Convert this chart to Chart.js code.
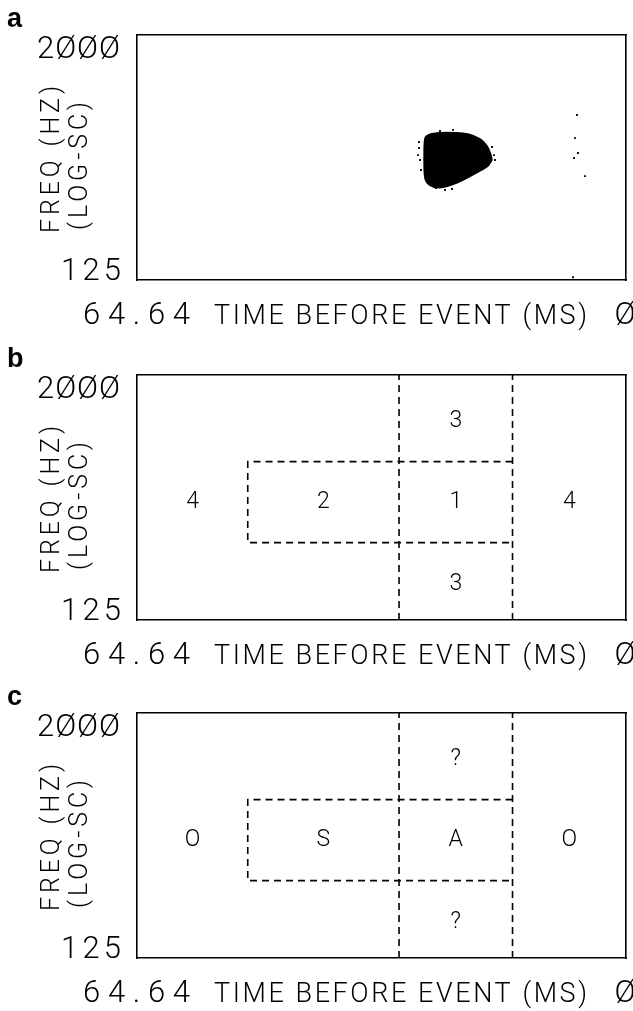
<!DOCTYPE html>
<html>
<head>
<meta charset="utf-8">
<script src="https://cdn.jsdelivr.net/npm/chart.js@4.4.1/dist/chart.umd.min.js"></script>
<style>
html,body{margin:0;padding:0;background:#fff;width:633px;height:1011px;overflow:hidden}
.p{position:absolute;left:0}
canvas{display:block}
</style>
</head>
<body>
<div class="p" style="top:0px"><canvas id="ca" width="633" height="340"></canvas></div>
<div class="p" style="top:340px"><canvas id="cb" width="633" height="338"></canvas></div>
<div class="p" style="top:678px"><canvas id="cc" width="633" height="333"></canvas></div>
<script>
// ---------------- data ----------------
const panelLetters = ['a', 'b', 'c'];
const timeRange = [0, 64.64];          // ms before event (axis runs 64.64 -> 0)
const freqRange = [125, 2000];         // Hz, log scale
const xTickValues = [64.64, 0];
const xTickLabels = ['64.64', 'Ø'];
const yTickValues = [2000, 125];
const yTickLabels = ['2ØØØ', '125'];
const xTitle = 'TIME BEFORE EVENT (MS)';
const yTitle1 = 'FREQ (HZ)';
const yTitle2 = '(LOG-SC)';

// panel a: spectro-temporal energy blob (upper and lower outline)
const blobUpperTime = [26.70, 26.57, 25.91, 24.59, 22.60, 20.89, 19.30, 18.37, 17.85, 17.71];
const blobUpperFreq = [486, 620, 650, 662, 662, 652, 617, 570, 514, 486];
const blobLowerTime = [26.70, 26.57, 25.91, 24.59, 22.60, 20.62, 19.17, 18.24, 17.71];
const blobLowerFreq = [486, 395, 365, 355, 372, 404, 432, 454, 486];
// isolated speckles
const speckTime = [27.36, 27.50, 27.23, 27.10, 27.36, 23.93, 23.00, 25.12, 17.45, 17.71, 17.32, 22.87, 24.59,
                   6.74, 6.35, 6.87, 5.42, 7.01, 6.48];
const speckFreq = [557, 514, 486, 434, 596, 346, 350, 354, 514, 563, 486, 683, 675,
                   623, 526, 497, 405, 129, 809];

// panels b, c: region partition
const dividerTimes = [30, 15];                 // full-height dashed verticals
const innerBoxTime = [15, 50, 50, 15];         // dashed box outline
const innerBoxFreq = [750, 750, 300, 300];
const regionTime = [57.3, 40, 22.5, 7.5, 22.5, 22.5];
const regionFreq = [474, 474, 474, 474, 1180, 188];
const regionLabelsB = ['4', '2', '1', '4', '3', '3'];
const regionLabelsC = ['O', 'S', 'A', 'O', '?', '?'];

// ---------------- helpers ----------------
const FONT = 'Roboto, "DejaVu Sans", sans-serif';
const pts = (xs, ys) => xs.map((x, i) => ({x: x, y: ys[i]}));

function fitText(ctx, text, left, baseline, width) {
  ctx.letterSpacing = '0px';
  const w = ctx.measureText(text).width;
  const n = Array.from(text).length;
  const ls = n > 1 ? (width - w) / (n - 1) : 0;
  ctx.letterSpacing = ls.toFixed(2) + 'px';
  ctx.textAlign = 'left';
  ctx.fillText(text, left, baseline);
  ctx.letterSpacing = '0px';
}

function makePanel(id, letter, datasets, regionLabels) {
  const canvas = document.getElementById(id);
  const H = canvas.height;
  const textPlugin = {
    id: 'textPlugin',
    afterDraw(chart) {
      const ctx = chart.ctx;
      const xs = chart.scales.x, ys = chart.scales.y;
      const ca = chart.chartArea;
      ctx.save();
      ctx.fillStyle = '#000';
      ctx.textBaseline = 'alphabetic';
      // panel letter
      ctx.font = 'bold 27px "Liberation Sans", Arial, sans-serif';
      ctx.textAlign = 'left';
      ctx.fillText(letter, 7, 27);
      // y tick labels
      ctx.font = '300 31px ' + FONT;
      fitText(ctx, yTickLabels[0], 37, ys.getPixelForValue(yTickValues[0]) + 23, 83);
      fitText(ctx, yTickLabels[1], 61, ys.getPixelForValue(yTickValues[1]), 60);
      // x tick labels + title on one row
      const xb = ca.bottom + 44;
      fitText(ctx, xTickLabels[0], xs.getPixelForValue(xTickValues[0]) - 54, xb, 107);
      ctx.letterSpacing = '0px';
      ctx.textAlign = 'center';
      ctx.fillText(xTickLabels[1], xs.getPixelForValue(xTickValues[1]) - 1, xb);
      ctx.font = '300 27px ' + FONT;
      fitText(ctx, xTitle, ca.left + 77, xb, 373);
      // y title (rotated, two lines)
      ctx.font = '300 25px ' + FONT;
      ctx.textBaseline = 'middle';
      ctx.save();
      ctx.translate(53, ca.bottom - 47);
      ctx.rotate(-Math.PI / 2);
      fitText(ctx, yTitle1, 0, 0, 147);
      ctx.restore();
      ctx.save();
      ctx.translate(81, ca.bottom - 50);
      ctx.rotate(-Math.PI / 2);
      fitText(ctx, yTitle2, 0, 0, 128);
      ctx.restore();
      // region labels
      if (regionLabels) {
        ctx.font = '300 23px ' + FONT;
        ctx.textAlign = 'center';
        ctx.textBaseline = 'middle';
        regionLabels.forEach((lab, i) => {
          ctx.fillText(lab, xs.getPixelForValue(regionTime[i]), ys.getPixelForValue(regionFreq[i]));
        });
      }
      ctx.restore();
    }
  };
  const border = {display: true, color: '#000', width: 1.6};
  const common = {grid: {display: false}, ticks: {display: false}, border: border};
  return new Chart(canvas, {
    type: 'line',
    data: {datasets: datasets},
    options: {
      responsive: false,
      animation: false,
      devicePixelRatio: 1,
      events: [],
      layout: {padding: 0},
      plugins: {legend: {display: false}, tooltip: {enabled: false}},
      scales: {
        x: Object.assign({type: 'linear', position: 'bottom', min: timeRange[0], max: timeRange[1], reverse: true,
             afterFit(s) { s.height = H - 280; }}, common),
        x2: Object.assign({type: 'linear', position: 'top', min: timeRange[0], max: timeRange[1], reverse: true,
             afterFit(s) { s.height = 35; }}, common),
        y: Object.assign({type: 'logarithmic', position: 'left', min: freqRange[0], max: freqRange[1],
             afterFit(s) { s.width = 137; }}, common),
        y2: Object.assign({type: 'logarithmic', position: 'right', min: freqRange[0], max: freqRange[1],
             afterFit(s) { s.width = 7; }}, common)
      }
    },
    plugins: [textPlugin]
  });
}

// ---------------- panel a ----------------
makePanel('ca', panelLetters[0], [
  {data: pts(blobUpperTime, blobUpperFreq), xAxisID: 'x', yAxisID: 'y', borderColor: '#000', borderWidth: 1.5,
   backgroundColor: '#000', fill: '+1', tension: 0.3, pointRadius: 0},
  {data: pts(blobLowerTime, blobLowerFreq), xAxisID: 'x', yAxisID: 'y', borderColor: '#000', borderWidth: 1.5,
   backgroundColor: '#000', fill: false, tension: 0.3, pointRadius: 0},
  {data: pts(speckTime, speckFreq), xAxisID: 'x', yAxisID: 'y', showLine: false, pointStyle: 'rect',
   pointRadius: 1.3, pointBackgroundColor: '#000', pointBorderWidth: 0, borderColor: '#000'}
], null);

// ---------------- panels b, c ----------------
function partitionSets() {
  const dash = {xAxisID: 'x', yAxisID: 'y', borderColor: '#000', borderWidth: 1.6, borderDash: [7, 5],
                pointRadius: 0, fill: false, tension: 0};
  const sets = dividerTimes.map(t => Object.assign({data: pts([t, t], freqRange)}, dash));
  sets.push(Object.assign({data: pts(innerBoxTime, innerBoxFreq)}, dash));
  return sets;
}
makePanel('cb', panelLetters[1], partitionSets(), regionLabelsB);
makePanel('cc', panelLetters[2], partitionSets(), regionLabelsC);
</script>
</body>
</html>
